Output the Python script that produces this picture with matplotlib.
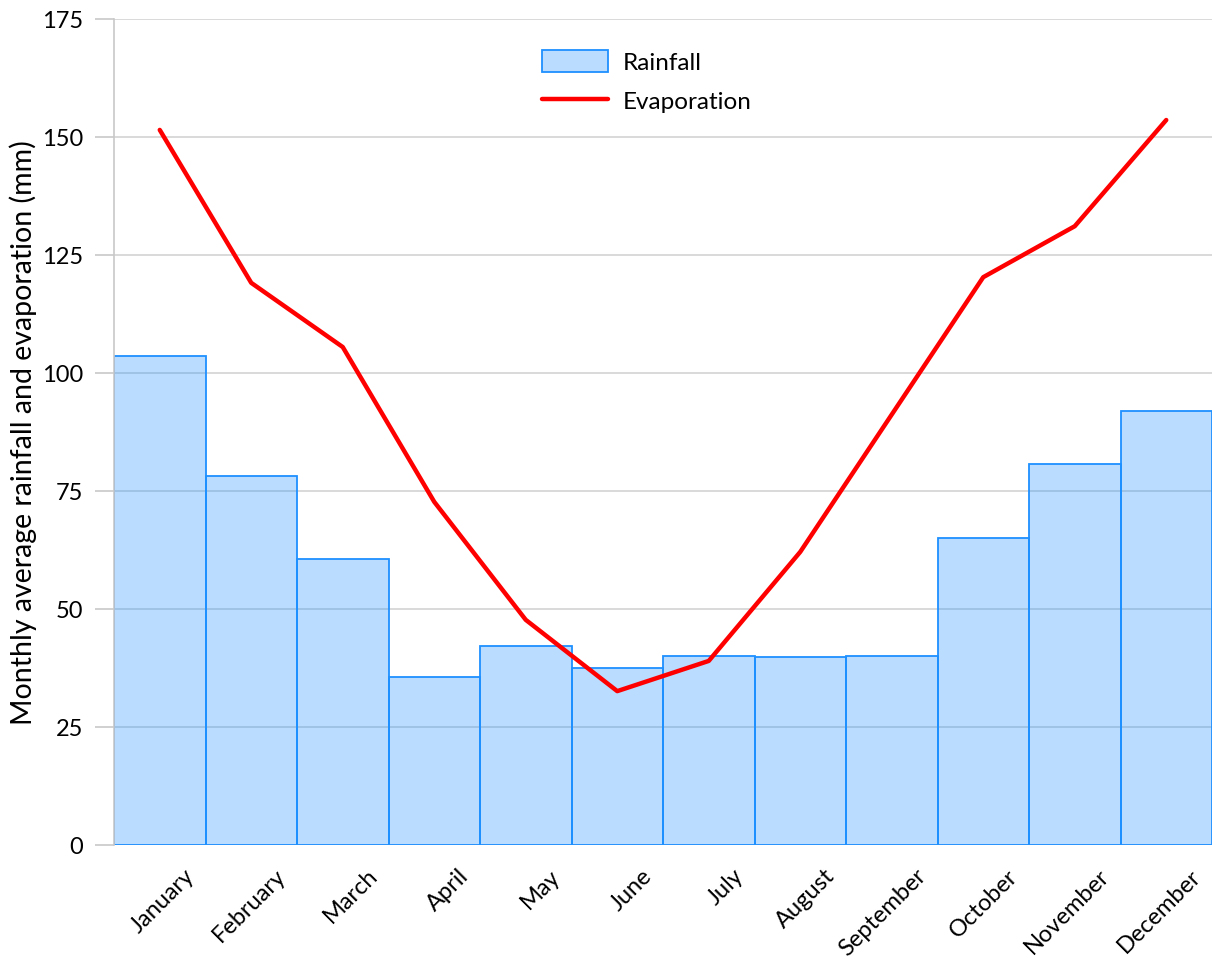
import matplotlib
matplotlib.use("Agg")
import matplotlib.pyplot as plt
import numpy as np
from matplotlib.transforms import ScaledTranslation

months = ["January", "February", "March", "April", "May", "June", "July",
          "August", "September", "October", "November", "December"]
rainfall = [103.6, 78.2, 60.6, 35.6, 42.2, 37.5, 40.0, 39.8, 40.0, 65.0, 80.7, 91.9]
evaporation = [151.5, 119.1, 105.5, 72.7, 47.7, 32.6, 39.0, 62.1, 91.2, 120.3, 131.1, 153.6]
y_ticks = [0, 25, 50, 75, 100, 125, 150, 175]

plt.rcParams["font.family"] = ["Lato", "DejaVu Sans"]

fig = plt.figure(figsize=(12.12, 9.62), dpi=100)
ax = fig.add_axes([114 / 1212, 116 / 962, 1 - 114 / 1212, (846 - 20) / 962])

x = np.arange(len(months))
bars = ax.bar(x, rainfall, width=1.0, color=(30 / 255, 144 / 255, 1.0, 0.31),
              edgecolor="#1E90FF", linewidth=1.3, label="Rainfall", zorder=2)
line, = ax.plot(x, evaporation, color="#FF0000", linewidth=3.2,
                label="Evaporation", zorder=3, solid_capstyle="round")

ax.set_xlim(-0.5, 11.5)
ax.set_ylim(0, 175)
ax.set_yticks(y_ticks)
ax.set_yticklabels([str(t) for t in y_ticks], fontsize=17)
ax.set_xticks(x)
ax.set_xticklabels(months, rotation=45, ha="right", rotation_mode="anchor",
                   fontsize=17)
ax.tick_params(axis="x", length=0, pad=14)
ax.tick_params(axis="y", length=14, width=1.2, color="#C8C8C8", pad=8)

ax.yaxis.grid(True, color="#D3D3D3", linewidth=1.2, zorder=1)
ax.set_axisbelow(True)
for side in ["top", "right", "bottom"]:
    ax.spines[side].set_visible(False)
ax.spines["left"].set_color("#C8C8C8")
ax.spines["left"].set_linewidth(1.2)

ax.set_ylabel("Monthly average rainfall and evaporation (mm)", fontsize=20.5,
              labelpad=4)

ax.legend([bars, line], ["Rainfall", "Evaporation"], loc="upper left",
          bbox_to_anchor=(0.37, 0.989), frameon=False, fontsize=17.5,
          handlelength=2.7, handleheight=1.0, handletextpad=0.6,
          labelspacing=0.65)

# shift rotated month labels so their ends sit just right of each bar centre
offset = ScaledTranslation(0.24, 0, fig.dpi_scale_trans)
for lbl in ax.get_xticklabels():
    lbl.set_transform(lbl.get_transform() + offset)

fig.savefig("out.png", dpi=100)
